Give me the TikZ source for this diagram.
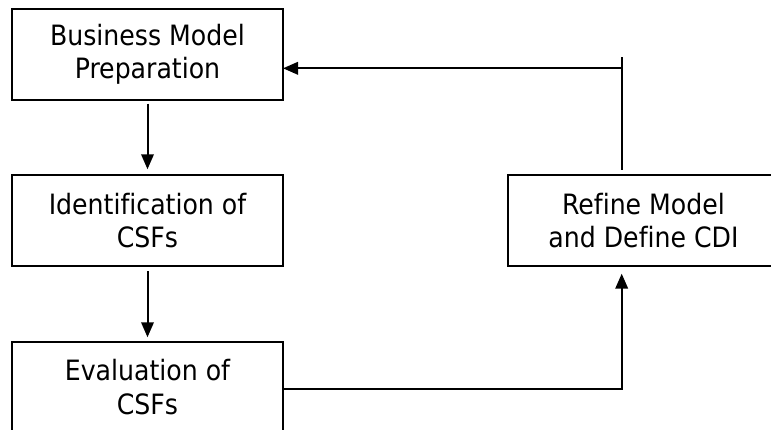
\documentclass[tikz,border=0pt]{standalone}
\usepackage{fontspec}
\setmainfont{DejaVu Sans Condensed}[Ligatures=NoCommon]
\usetikzlibrary{arrows.meta}
\begin{document}
\begin{tikzpicture}[x=1pt,y=-1pt,
  stepbox/.style={draw, line width=2pt, minimum width=271pt, minimum height=90.5pt,
    align=center, inner sep=0pt, font=\fontsize{28}{33.3}\selectfont},
  link/.style={line width=2pt},
  arr/.style={link, -{Triangle[length=15pt,width=12.5pt]}}]
\useasboundingbox (0,0) rectangle (771,429);
\clip (0,0) rectangle (771,429);

% process steps
\node[stepbox] (bmp)    at (147.5,54.4)  {Business Model\\Preparation};
\node[stepbox] (ident)  at (147.5,220.5) {Identification of\\CSFs};
\node[stepbox] (eval)   at (147.5,387)   {Evaluation of\\CSFs};
\node[stepbox] (refine) at (643.5,220.4) {Refine Model\\and Define CDI};

% main flow
\draw[arr, shorten <=3pt, shorten >=5pt] (bmp) -- (ident);
\draw[arr, shorten <=4.5pt, shorten >=3.5pt] (ident) -- (eval);
\draw[arr, shorten >=7pt] ([yshift=-2pt]eval.east) -| ([xshift=-21.8pt]refine.south);

% feedback loop
\coordinate (top)  at (621.7,57.3);
\coordinate (bend) at (621.7,68.3);
\draw[link] ([xshift=-21.8pt,yshift=4.3pt]refine.north) -- (top);
\draw[arr, shorten >=-1pt] (bend) -- (bend -| bmp.east);
\end{tikzpicture}
\end{document}
